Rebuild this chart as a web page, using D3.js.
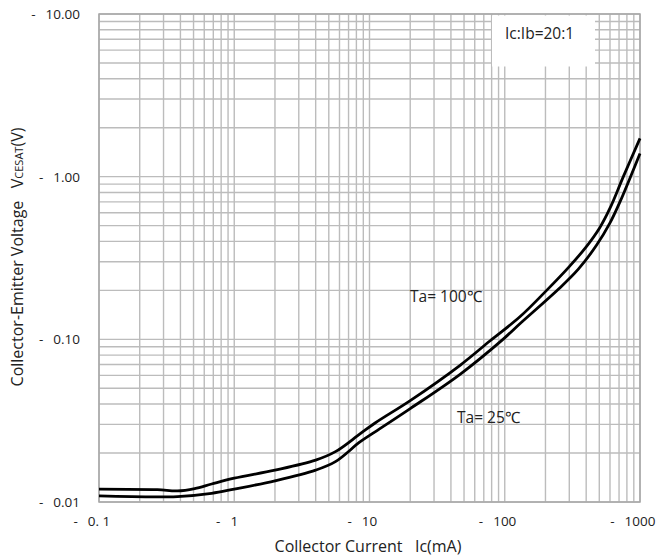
<!DOCTYPE html>
<html lang="en">
<head>
<meta charset="utf-8">
<title>VCE(sat) vs Ic</title>
<script src="https://cdn.jsdelivr.net/npm/d3@7"></script>
<style>
  body { margin: 0; background: #fff; }
  text { font-family: "Open Sans", "Liberation Sans", sans-serif; fill: #222; }
</style>
</head>
<body>
<script>
// data (Ic in mA, Vce(sat) in V)
var icTa100 = [0.1, 0.27, 0.38, 0.51, 0.68, 1, 2, 4, 5.6, 8.5, 11, 20, 47, 78, 130, 204, 300, 400, 500, 600, 753, 1000];
var vTa100  = [0.0120, 0.0119, 0.0117, 0.0121, 0.0129, 0.0140, 0.0157, 0.0181, 0.0204, 0.0262, 0.0306, 0.0420, 0.0695, 0.098, 0.138, 0.200, 0.280, 0.370, 0.480, 0.640, 1.00, 1.72];
var icTa25  = [0.1, 0.38, 0.68, 1, 2, 4, 5.6, 8.5, 11, 20, 47, 97, 130, 249, 350, 478, 600, 711, 1000];
var vTa25   = [0.0109, 0.0108, 0.0113, 0.0120, 0.0135, 0.0157, 0.0177, 0.0234, 0.0270, 0.0375, 0.0612, 0.100, 0.125, 0.203, 0.270, 0.380, 0.520, 0.700, 1.39];

var xTicks = [0.1, 1, 10, 100, 1000];
var xTickLabels = ["0. 1", "1", "10", "100", "1000"];
var yTicks = [0.01, 0.1, 1, 10];
var yTickLabels = ["0.01", "0.10", "1.00", "10.00"];

var W = 657, H = 557;
var margin = {top: 14, right: 17, bottom: 55, left: 99};
var width = W - margin.left - margin.right;
var height = H - margin.top - margin.bottom;

var svg = d3.select("body").append("svg").attr("width", W).attr("height", H);
var g = svg.append("g").attr("transform", "translate(" + margin.left + "," + margin.top + ")");

var x = d3.scaleLog().domain([0.1, 1000]).range([0, width]);
var y = d3.scaleLog().domain([0.01, 10]).range([height, 0]);

// grid lines 1..9 per decade
var xGrid = [], yGrid = [];
[0.1, 1, 10, 100].forEach(function (d) { for (var m = 1; m < 10; m++) xGrid.push(d * m); });
xGrid.push(1000);
[0.01, 0.1, 1].forEach(function (d) { for (var m = 1; m < 10; m++) yGrid.push(d * m); });
yGrid.push(10);

g.selectAll(".vgrid").data(xGrid).enter().append("line")
  .attr("x1", function (d) { return x(d); }).attr("x2", function (d) { return x(d); })
  .attr("y1", 0).attr("y2", height)
  .attr("stroke", "#bcbcbc").attr("stroke-width", 1.4);

g.selectAll(".hgrid").data(yGrid).enter().append("line")
  .attr("y1", function (d) { return y(d); }).attr("y2", function (d) { return y(d); })
  .attr("x1", 0).attr("x2", width)
  .attr("stroke", "#bcbcbc").attr("stroke-width", 1.4);

// legend box covering the grid
g.append("rect").attr("x", 393).attr("y", 1.5).attr("width", 103).attr("height", 51).attr("fill", "#fff");
g.append("text").attr("x", 406).attr("y", 25).style("font-size", "15.5px").text("Ic:Ib=20:1");

g.append("rect").attr("x", 0).attr("y", 0).attr("width", width).attr("height", height)
  .attr("fill", "none").attr("stroke", "#a8a8a8").attr("stroke-width", 1.5);

// curves
var line = d3.line()
  .x(function (d) { return x(d[0]); })
  .y(function (d) { return y(d[1]); })
  .curve(d3.curveCatmullRom.alpha(0.5));

g.append("path").datum(d3.zip(icTa100, vTa100)).attr("d", line)
  .attr("fill", "none").attr("stroke", "#000").attr("stroke-width", 2.8);
g.append("path").datum(d3.zip(icTa25, vTa25)).attr("d", line)
  .attr("fill", "none").attr("stroke", "#000").attr("stroke-width", 2.8);

g.append("text").attr("x", 311).attr("y", 288).style("font-size", "15.5px").text("Ta= 100\u2103");
g.append("text").attr("x", 358).attr("y", 409).style("font-size", "15.5px").text("Ta= 25\u2103");

// y tick labels
yTicks.forEach(function (d, i) {
  var t = svg.append("text").attr("x", 80).attr("y", margin.top + y(d) + 5)
    .attr("text-anchor", "end").style("font-size", "13.5px").text(yTickLabels[i]);
  var len = t.node().getComputedTextLength();
  svg.append("text").attr("x", 80 - len - 10).attr("y", margin.top + y(d) + 5)
    .attr("text-anchor", "end").style("font-size", "13.5px").text("-");
});

// x tick labels
xTicks.forEach(function (d, i) {
  var cx = margin.left + x(d);
  var t = svg.append("text").attr("x", cx).attr("y", 526)
    .attr("text-anchor", "middle").style("font-size", "13.5px").text(xTickLabels[i]);
  var len = t.node().getComputedTextLength();
  svg.append("text").attr("x", cx - len / 2 - 10).attr("y", 526)
    .attr("text-anchor", "end").style("font-size", "13.5px").text("-");
});

// axis titles
svg.append("text").attr("x", 368).attr("y", 552).attr("text-anchor", "middle")
  .style("font-size", "16px").attr("xml:space", "preserve").text("Collector Current   Ic(mA)");

var yt = svg.append("text").attr("transform", "translate(23,257) rotate(-90)")
  .attr("text-anchor", "middle").style("font-size", "16px").attr("xml:space", "preserve");
yt.append("tspan").text("Collector-Emitter Voltage   V");
yt.append("tspan").style("font-size", "11px").text("CESAT");
yt.append("tspan").text("(V)");
</script>
</body>
</html>
